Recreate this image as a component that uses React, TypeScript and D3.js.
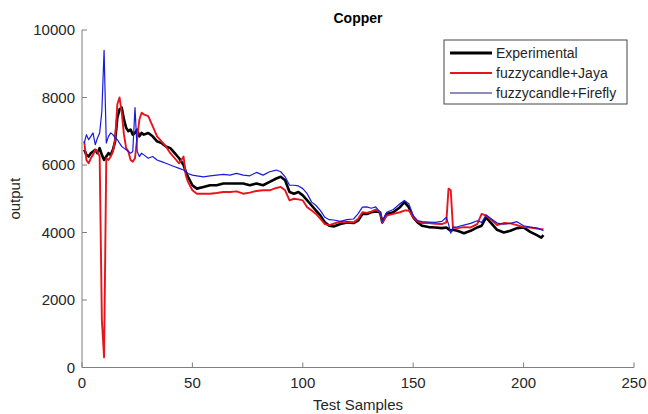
import React from "react";
import * as d3 from "d3";

const samples = [
  1, 2, 3, 4, 5, 6, 7, 8, 9, 10, 11, 12, 13, 14, 15, 16, 17, 18, 19, 20, 21, 22, 23, 24, 25, 26, 27, 28,
  30, 32, 34, 36, 38, 40, 42, 44, 46, 47, 48, 50, 52, 55, 58, 61, 64, 67, 70, 73, 76, 79, 82, 85, 88, 90,
  92, 94, 96, 98, 100, 102, 104, 106, 108, 110, 112, 114, 117, 120, 123, 125, 127, 129, 131, 133, 135,
  136, 138, 141, 144, 146, 148, 150, 152, 154, 157, 160, 163, 165, 166, 167, 168, 170, 173, 176, 179,
  181, 183, 185, 188, 191, 194, 197, 200, 203, 206, 208, 209,
];

const experimental = [
  6450, 6300, 6250, 6350, 6400, 6450, 6350, 6500, 6300, 6150, 6250, 6350, 6300, 6450, 6700, 7400, 7650,
  7700, 7350, 7100, 7000, 7050, 6900, 6950, 7050, 6850, 6950, 6900,
  6950, 6850, 6700, 6650, 6550, 6500, 6350, 6200, 6000, 5800, 5650, 5400, 5300, 5350, 5400, 5400, 5450,
  5450, 5450, 5450, 5400, 5450, 5400, 5500, 5600, 5650,
  5550, 5200, 5150, 5200, 5100, 4950, 4800, 4650, 4500, 4300, 4200, 4180, 4250, 4300, 4280, 4350, 4550,
  4550, 4600, 4620, 4600,
  4300, 4550, 4600, 4750, 4900, 4750, 4450, 4300, 4200, 4160, 4150, 4130, 4150, 4100, 4050, 4080, 4050,
  3980, 4050, 4150,
  4200, 4450, 4300, 4080, 4000, 4050, 4130, 4150, 4020, 3920, 3850, 3920,
];

const jaya = [
  6700, 6150, 6050, 6200, 6300, 6450, 6400, 6250, 1400, 300, 6200, 6150, 6250, 6400, 6750, 7800, 8000,
  7550, 6900, 6500, 6400, 6150, 6100, 6200, 6800, 7350, 7550, 7500,
  7450, 7150, 6850, 6700, 6550, 6350, 6200, 6050, 6250, 5700, 5500, 5250, 5150, 5150, 5150, 5170, 5200,
  5200, 5220, 5150, 5180, 5230, 5250, 5250, 5320, 5350,
  5250, 4950, 5000, 4980, 4950, 4750, 4650, 4550, 4400, 4250, 4220, 4260, 4320, 4300, 4300, 4400, 4600,
  4580, 4620, 4680, 4600,
  4300, 4500, 4550, 4600, 4650, 4650, 4450, 4330, 4280, 4280, 4260, 4250, 4300, 5300, 5250, 4150, 4130,
  4160, 4150, 4250,
  4550, 4500, 4400, 4220, 4280, 4270, 4220, 4160, 4150, 4120, 4100, 4100,
];

const firefly = [
  6650, 6900, 6750, 6850, 6950, 6600, 6800, 6950, 7600, 9400, 6650, 6850, 6950, 6900, 6800, 6750, 6650,
  6550, 6500, 6450, 6400, 6350, 6400, 7700, 6400, 6250, 6350, 6300,
  6200, 6250, 6150, 6100, 6050, 6000, 5950, 5900, 5850, 5800, 5750, 5700, 5680, 5650, 5680, 5700, 5720,
  5700, 5750, 5700, 5680, 5780, 5700, 5800, 5850, 5800,
  5650, 5400, 5400, 5380, 5300, 5150, 4900, 4800, 4650, 4450, 4380, 4370, 4330, 4380, 4400, 4550, 4750,
  4760, 4720, 4760, 4600,
  4320, 4600, 4680, 4850, 4950, 4850, 4500, 4350, 4320, 4310, 4300, 4330, 4450, 4250, 3980, 4150, 4170,
  4220, 4270, 4350,
  4300, 4520, 4420, 4280, 4250, 4270, 4320, 4200, 4160, 4130, 4080, 4050,
];

const seriesNames = ["Experimental", "fuzzycandle+Jaya", "fuzzycandle+Firefly"];
const xTicks = [0, 50, 100, 150, 200, 250];
const yTicks = [0, 2000, 4000, 6000, 8000, 10000];

const W = 648;
const H = 414;
const left = 82;
const right = 634;
const top = 30;
const bottom = 367.5;
const font = "'Liberation Sans', Arial, Helvetica, sans-serif";
const axisColor = "#7f7f7f";
const textColor = "#262626";

const styles = [
  { color: "#000000", width: 2.6, legendColor: "#000000", legendWidth: 3 },
  { color: "#e8141b", width: 1.9, legendColor: "#e8141b", legendWidth: 2 },
  { color: "#1a1adf", width: 1.2, legendColor: "#1a1a80", legendWidth: 1 },
];

export default function App() {
  const x = d3.scaleLinear().domain([0, 250]).range([left, right]);
  const y = d3.scaleLinear().domain([0, 10000]).range([bottom, top]);
  const allSeries = [experimental, jaya, firefly];

  const line = d3
    .line<number>()
    .x((_, i) => x(samples[i]))
    .y((d) => y(d));

  const legX = 444;
  const legY = 40;

  return (
    <svg
      width={W}
      height={H}
      style={{ position: "absolute", left: 0, top: 0, background: "#fff" }}
      fontFamily={font}
    >
      <rect width={W} height={H} fill="#fff" />

      {allSeries.map((vals, k) => (
        <path
          key={k}
          d={line(vals) || ""}
          fill="none"
          stroke={styles[k].color}
          strokeWidth={styles[k].width}
          strokeLinejoin="round"
        />
      ))}

      {/* axes */}
      <line x1={left} x2={left} y1={top} y2={bottom} stroke={axisColor} strokeWidth={1} />
      <line x1={left} x2={right} y1={bottom} y2={bottom} stroke={axisColor} strokeWidth={1} />
      {xTicks.map((t) => (
        <g key={t}>
          <line x1={x(t)} x2={x(t)} y1={bottom} y2={bottom - 5} stroke={axisColor} />
          <text x={x(t)} y={bottom + 20} textAnchor="middle" fontSize={15} fill={textColor}>
            {t}
          </text>
        </g>
      ))}
      {yTicks.map((t) => (
        <g key={t}>
          <line x1={left} x2={left + 5} y1={y(t)} y2={y(t)} stroke={axisColor} />
          <text x={left - 7} y={y(t) + 5} textAnchor="end" fontSize={15} fill={textColor}>
            {t}
          </text>
        </g>
      ))}

      <text x={(left + right) / 2} y={23} textAnchor="middle" fontSize={14} fontWeight="bold" fill="#000">
        Copper
      </text>
      <text x={(left + right) / 2} y={410} textAnchor="middle" fontSize={15} fill={textColor}>
        Test Samples
      </text>
      <text
        transform={`translate(20, ${(top + bottom) / 2}) rotate(-90)`}
        textAnchor="middle"
        fontSize={15}
        fill={textColor}
      >
        output
      </text>

      {/* legend */}
      <rect x={legX} y={legY} width={183} height={64} fill="#fff" stroke="#444" strokeWidth={1} />
      {seriesNames.map((name, k) => (
        <g key={name} transform={`translate(${legX}, ${legY + 13 + k * 20})`}>
          <line x1={6} x2={48} y1={0} y2={0} stroke={styles[k].legendColor} strokeWidth={styles[k].legendWidth} />
          <text x={52} y={5} fontSize={14} fill={textColor}>
            {name}
          </text>
        </g>
      ))}
    </svg>
  );
}
